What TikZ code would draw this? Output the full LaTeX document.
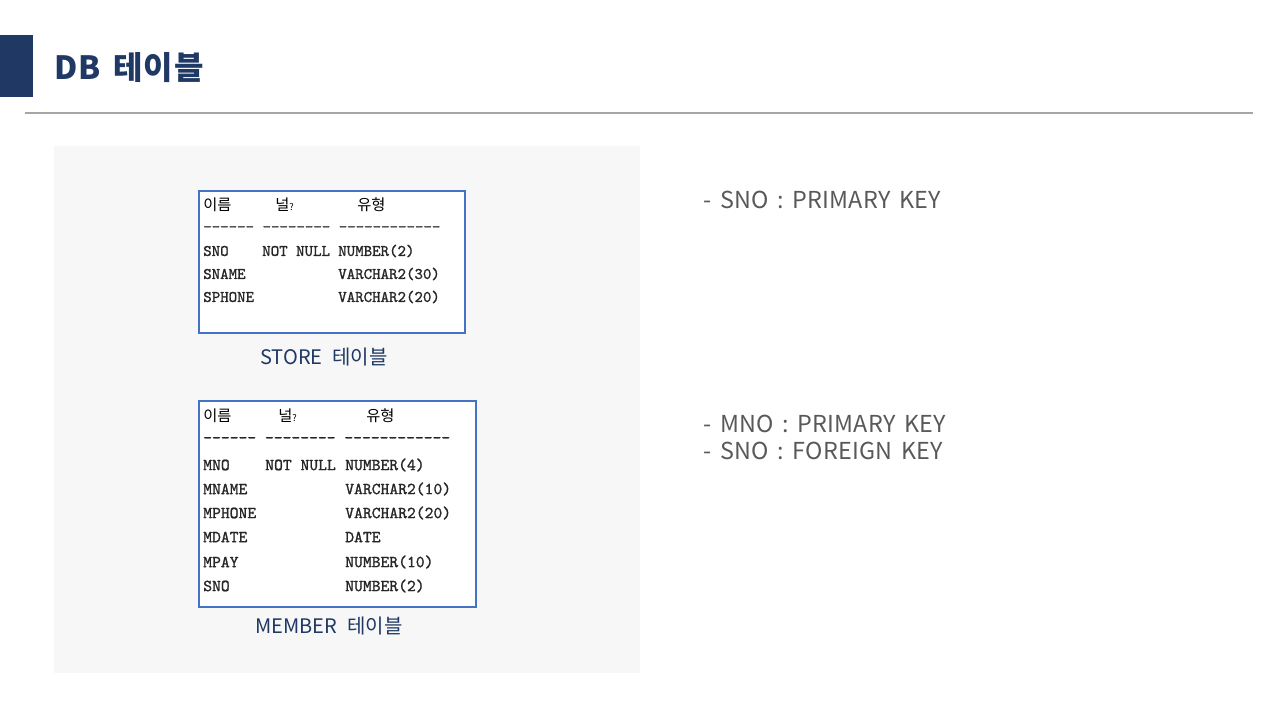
\documentclass[tikz,border=0pt]{standalone}
\usepackage{fontspec}
\setmainfont{Noto Sans CJK KR}
\newfontfamily\kr{Noto Sans CJK KR}
\newfontfamily\krtitle{Noto Sans CJK KR}[LetterSpace=3,WordSpace=1.5]
\newfontfamily\krnote{Noto Sans CJK KR}[LetterSpace=1,WordSpace=1.6]
\newfontfamily\mono{lmmono10-regular}[Extension=.otf,FakeBold=1.2]
\definecolor{navy}{HTML}{1F3864}
\definecolor{boxblue}{HTML}{4472C4}
\definecolor{panel}{HTML}{F7F7F7}
\definecolor{rule}{HTML}{A6A6A6}
\definecolor{note}{HTML}{595959}
\tikzset{
  mt/.style={anchor=west,inner sep=0pt,font=\mono\fontsize{12.1pt}{12pt}\selectfont,text=black!85},
  mtb/.style={anchor=west,inner sep=0pt,font=\mono\fontsize{12.6pt}{12pt}\selectfont,text=black!85},
  hd/.style={anchor=west,inner sep=0pt,font=\kr\fontsize{11.5pt}{11pt}\selectfont,text=black},
  tbl/.style={draw=boxblue,line width=2pt,fill=white},
  captext/.style={inner sep=0pt,font=\kr\fontsize{15pt}{15pt}\selectfont,text=navy},
  notetext/.style={anchor=west,inner sep=0pt,font=\krnote\fontsize{17.5pt}{17.5pt}\selectfont,text=note}
}
\newcommand{\qm}{\raisebox{0pt}{\fontsize{7pt}{7pt}\selectfont ?}}
\begin{document}
\begin{tikzpicture}[x=0.75pt,y=-0.75pt]
\useasboundingbox (0,0) rectangle (1280,720);
\fill[white] (0,0) rectangle (1280,720);
% header
\fill[navy] (0,35) rectangle (33,97);
\node[anchor=west,inner sep=0pt,font=\krtitle\bfseries\fontsize{24pt}{24pt}\selectfont,text=navy] (title) at (54,68) {DB 테이블};
\draw[rule,line width=0.9pt] (25,113) -- (1253,113);
% panel
\fill[panel] (54,146) rectangle (640,673);
% STORE table
\draw[tbl] (199,191) rectangle (465,333);
\node[hd] (s-h1) at (203,205) {이름};
\node[hd] (s-h2) at (275,205) {널\qm};
\node[hd] (s-h3) at (357,205) {유형};
\node[mt] (s-d) at (203,229) {------ -------- ------------};
\node[mt] (s-r1a) at (203,251) {SNO};
\node[mt] (s-r1b) at (262,251) {NOT NULL};
\node[mt] (s-r1c) at (338,251) {NUMBER(2)};
\node[mt] (s-r2a) at (203,274) {SNAME};
\node[mt] (s-r2c) at (338,274) {VARCHAR2(30)};
\node[mt] (s-r3a) at (203,297) {SPHONE};
\node[mt] (s-r3c) at (338,297) {VARCHAR2(20)};
\node[captext] (s-cap) at (324,357) {STORE\hspace{0.5em}테이블};
% MEMBER table
\draw[tbl] (199,401) rectangle (476,607);
\node[hd] (m-h1) at (203,416) {이름};
\node[hd] (m-h2) at (278,416) {널\qm};
\node[hd] (m-h3) at (366,416) {유형};
\node[mtb] (m-d) at (203,440) {------ -------- ------------};
\node[mtb] (m-r1a) at (203,465) {MNO};
\node[mtb] (m-r1b) at (265,465) {NOT NULL};
\node[mtb] (m-r1c) at (345,465) {NUMBER(4)};
\node[mtb] (m-r2a) at (203,489) {MNAME};
\node[mtb] (m-r2c) at (345,489) {VARCHAR2(10)};
\node[mtb] (m-r3a) at (203,513) {MPHONE};
\node[mtb] (m-r3c) at (345,513) {VARCHAR2(20)};
\node[mtb] (m-r4a) at (203,537) {MDATE};
\node[mtb] (m-r4c) at (345,537) {DATE};
\node[mtb] (m-r5a) at (203,562) {MPAY};
\node[mtb] (m-r5c) at (345,562) {NUMBER(10)};
\node[mtb] (m-r6a) at (203,586) {SNO};
\node[mtb] (m-r6c) at (345,586) {NUMBER(2)};
\node[captext] (m-cap) at (329,626) {MEMBER\hspace{0.5em}테이블};
% notes
\node[notetext] (n1) at (703,200) {- SNO : PRIMARY KEY};
\node[notetext] (n2) at (703,424) {- MNO : PRIMARY KEY};
\node[notetext] (n3) at (703,451) {- SNO : FOREIGN KEY};
\end{tikzpicture}
\end{document}
